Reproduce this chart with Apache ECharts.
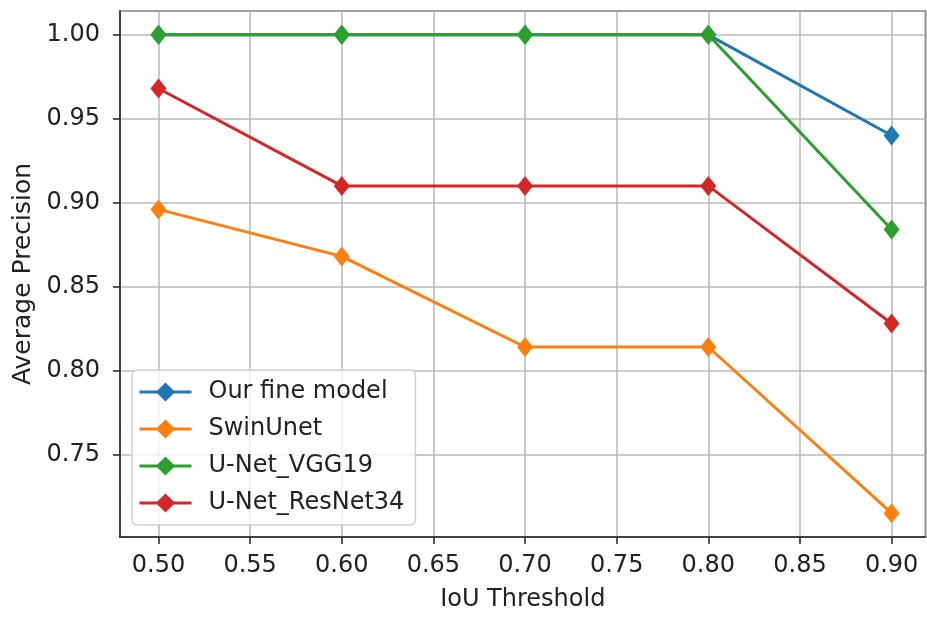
<!DOCTYPE html>
<html>
<head>
<meta charset="utf-8">
<script src="https://cdn.jsdelivr.net/npm/echarts@6/dist/echarts.min.js"></script>
<style>
html,body{margin:0;padding:0;background:#fff;}
#chart{width:927px;height:617px;}
</style>
</head>
<body>
<div id="chart"></div>
<script>
const thresholds = [0.5, 0.6, 0.7, 0.8, 0.9];
const seriesNames = ['Our fine model', 'SwinUnet', 'U-Net_VGG19', 'U-Net_ResNet34'];
const ourFineModel = [1.0, 1.0, 1.0, 1.0, 0.940];
const swinUnet = [0.896, 0.868, 0.814, 0.814, 0.715];
const unetVgg19 = [1.0, 1.0, 1.0, 1.0, 0.884];
const unetResNet34 = [0.968, 0.910, 0.910, 0.910, 0.828];
const colors = ['#1f77b4', '#ff7f0e', '#2ca02c', '#d62728'];
const xLimits = [0.479, 0.9185];
const yLimits = [0.7008, 1.0142];

const allValues = [ourFineModel, swinUnet, unetVgg19, unetResNet34];
const FONT = 'DejaVu Sans';

const chart = echarts.init(document.getElementById('chart'), null, {renderer: 'canvas'});
const series = allValues.map((vals, i) => ({
  name: seriesNames[i],
  type: 'line',
  data: thresholds.map((x, j) => [x, vals[j]]),
  symbol: 'diamond',
  symbolSize: [16, 20],
  showAllSymbol: true,
  lineStyle: {color: colors[i], width: 3},
  itemStyle: {color: colors[i]},
  emphasis: {disabled: true},
  animation: false
}));

chart.setOption({
  animation: false,
  backgroundColor: '#fff',
  grid: {left: 120, right: 1.5, top: 11, bottom: 80, show: true, borderColor: '#222', borderWidth: 1.5, backgroundColor: 'transparent'},
  legend: {
    orient: 'vertical',
    left: 132, top: 370,
    itemWidth: 52, itemHeight: 24, itemGap: 13,
    padding: [10, 11, 10, 6],
    backgroundColor: 'rgba(255,255,255,0.8)',
    borderColor: '#d0d0d0', borderWidth: 1.5, borderRadius: 5,
    lineStyle: {width: 3},
    textStyle: {fontFamily: FONT, fontSize: 24, color: '#222', padding: [0, 0, 0, 12]},
    data: seriesNames
  },
  xAxis: {
    type: 'value', min: xLimits[0], max: xLimits[1], splitNumber: 8,
    name: 'IoU Threshold', nameLocation: 'middle', nameGap: 51,
    nameTextStyle: {fontFamily: FONT, fontSize: 24, color: '#222'},
    axisLine: {show: true, onZero: false, lineStyle: {color: '#222', width: 1.5}},
    axisTick: {show: true, length: 7, lineStyle: {color: '#222', width: 1.5}},
    axisLabel: {showMinLabel: false, showMaxLabel: false, margin: 17, fontFamily: FONT, fontSize: 24, color: '#222', formatter: v => v.toFixed(2)},
    splitLine: {show: true, lineStyle: {color: '#b8b8b8', width: 1.5}}
  },
  yAxis: {
    type: 'value', min: yLimits[0], max: yLimits[1], splitNumber: 6,
    name: 'Average Precision', nameLocation: 'middle', nameGap: 84,
    nameTextStyle: {fontFamily: FONT, fontSize: 25, color: '#222'},
    axisLine: {show: true, onZero: false, lineStyle: {color: '#222', width: 1.5}},
    axisTick: {show: true, length: 7, lineStyle: {color: '#222', width: 1.5}},
    axisLabel: {showMinLabel: false, showMaxLabel: false, margin: 20, fontFamily: FONT, fontSize: 24, color: '#222', formatter: v => v.toFixed(2)},
    splitLine: {show: true, lineStyle: {color: '#b8b8b8', width: 1.5}}
  },
  series: series
});
</script>
</body>
</html>
